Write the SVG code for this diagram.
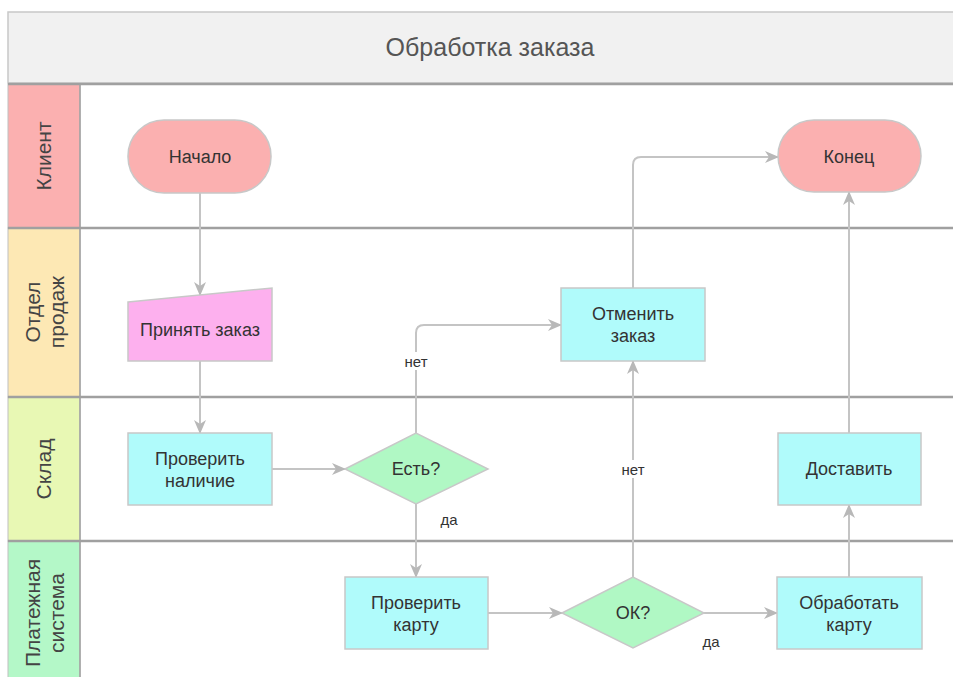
<svg xmlns="http://www.w3.org/2000/svg" width="953" height="677" viewBox="0 0 953 677">
<style>
text{font-family:"Liberation Sans",Arial,sans-serif;}
.node{font-size:18px;fill:#333;text-anchor:middle;}
.lane{font-size:21px;fill:#444;text-anchor:middle;}
.lbl{font-size:15px;fill:#333;text-anchor:middle;}
.conn{fill:none;stroke:#c4c4c4;stroke-width:2;}
.box{fill:#b0fbfb;stroke:#c8c8c8;stroke-width:1.5;}
.dia{fill:#b0f8c4;stroke:#c8c8c8;stroke-width:1.5;}
.term{fill:#fbb0b0;stroke:#c8c8c8;stroke-width:1.5;}
.div{stroke:#a0a0a0;stroke-width:2.5;}
</style>
<defs>
<marker id="ah" viewBox="0 0 14 12" refX="13" refY="6" markerWidth="14" markerHeight="12" markerUnits="userSpaceOnUse" orient="auto">
<path d="M0,0 L14,6 L0,12 L4,6 z" fill="#b8b8b8"/>
</marker>
</defs>
<rect width="953" height="677" fill="#fff"/>
<g id="pool">
<rect x="8" y="12" width="960" height="71" fill="#f1f1f1" stroke="#c8c8c8" stroke-width="1.5"/>
<text x="490" y="56" fill="#555" text-anchor="middle" style="font-size:25px">Обработка заказа</text>
</g>
<g id="lane-client">
<rect x="8" y="84" width="72" height="144" fill="#fbb0b0" stroke="#c0c0c0"/>
<text class="lane" transform="translate(51,156) rotate(-90)">Клиент</text>
</g>
<g id="lane-sales">
<rect x="8" y="228" width="72" height="169" fill="#fde8b4" stroke="#c0c0c0"/>
<text class="lane" transform="translate(44,312) rotate(-90)"><tspan x="0" y="-4">Отдел</tspan><tspan x="0" y="20">продаж</tspan></text>
</g>
<g id="lane-stock">
<rect x="8" y="397" width="72" height="144" fill="#e8f8b4" stroke="#c0c0c0"/>
<text class="lane" transform="translate(51,469) rotate(-90)">Склад</text>
</g>
<g id="lane-pay">
<rect x="8" y="541" width="72" height="140" fill="#b4f8c8" stroke="#c0c0c0"/>
<text class="lane" transform="translate(44,613) rotate(-90)"><tspan x="0" y="-4">Платежная</tspan><tspan x="0" y="20">система</tspan></text>
</g>
<g id="dividers">
<line class="div" x1="8" y1="84" x2="953" y2="84"/>
<line class="div" x1="8" y1="228" x2="953" y2="228"/>
<line class="div" x1="8" y1="397" x2="953" y2="397"/>
<line class="div" x1="8" y1="541" x2="953" y2="541"/>
<line x1="80" y1="84" x2="80" y2="677" stroke="#a0a0a0" stroke-width="1.5"/>
</g>
<g id="connectors">
<path class="conn" d="M200,193 V295" marker-end="url(#ah)"/>
<path class="conn" d="M200,361 V433" marker-end="url(#ah)"/>
<path class="conn" d="M272,469 H345" marker-end="url(#ah)"/>
<path class="conn" d="M416,433 V333 Q416,325 424,325 H561" marker-end="url(#ah)"/>
<path class="conn" d="M416,504 V577" marker-end="url(#ah)"/>
<path class="conn" d="M488,613 H562" marker-end="url(#ah)"/>
<path class="conn" d="M633,577 V361" marker-end="url(#ah)"/>
<path class="conn" d="M704,613 H777" marker-end="url(#ah)"/>
<path class="conn" d="M849,577 V505" marker-end="url(#ah)"/>
<path class="conn" d="M849,433 V192" marker-end="url(#ah)"/>
<path class="conn" d="M633,288 V165 Q633,157 641,157 H778" marker-end="url(#ah)"/>
<rect x="398" y="352" width="36" height="18" fill="#fff"/>
<text class="lbl" x="416" y="367">нет</text>
<rect x="615" y="460" width="36" height="18" fill="#fff"/>
<text class="lbl" x="633" y="475">нет</text>
<text class="lbl" x="449" y="525">да</text>
<text class="lbl" x="711" y="647">да</text>
</g>
<g id="n-start">
<rect class="term" x="128" y="120" width="143" height="73" rx="36"/>
<text class="node" x="200" y="163">Начало</text>
</g>
<g id="n-end">
<rect class="term" x="778" y="120" width="143" height="72" rx="36"/>
<text class="node" x="849" y="163">Конец</text>
</g>
<g id="n-accept">
<path d="M128,302 L272,288 L272,361 L128,361 Z" fill="#fdb0ee" stroke="#c8c8c8" stroke-width="1.5"/>
<text class="node" x="200" y="336">Принять заказ</text>
</g>
<g id="n-check-stock">
<rect class="box" x="128" y="433" width="144" height="72"/>
<text class="node" x="200" y="465">Проверить</text>
<text class="node" x="200" y="487">наличие</text>
</g>
<g id="n-have">
<path class="dia" d="M345,469 L416,433 L488,469 L416,504 Z"/>
<text class="node" x="416" y="475">Есть?</text>
</g>
<g id="n-cancel">
<rect class="box" x="561" y="288" width="144" height="73"/>
<text class="node" x="633" y="320">Отменить</text>
<text class="node" x="633" y="342">заказ</text>
</g>
<g id="n-check-card">
<rect class="box" x="345" y="577" width="143" height="72"/>
<text class="node" x="416" y="609">Проверить</text>
<text class="node" x="416" y="631">карту</text>
</g>
<g id="n-ok">
<path class="dia" d="M562,613 L633,577 L704,613 L633,648 Z"/>
<text class="node" x="633" y="619">ОК?</text>
</g>
<g id="n-process">
<rect class="box" x="777" y="577" width="145" height="72"/>
<text class="node" x="849" y="609">Обработать</text>
<text class="node" x="849" y="631">карту</text>
</g>
<g id="n-deliver">
<rect class="box" x="778" y="433" width="143" height="72"/>
<text class="node" x="849" y="475">Доставить</text>
</g>
</svg>
